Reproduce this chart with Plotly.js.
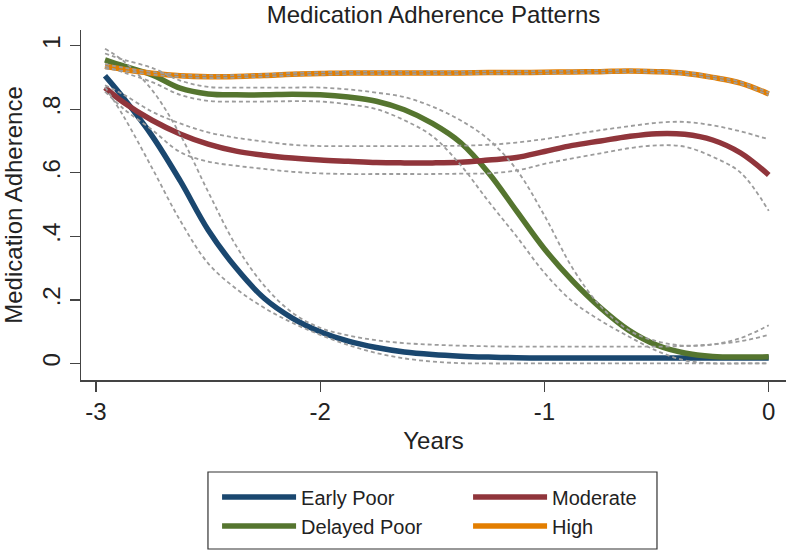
<!DOCTYPE html>
<html>
<head>
<meta charset="utf-8">
<script src="https://cdn.plot.ly/plotly-3.0.1.min.js"></script>
<style>html,body{margin:0;padding:0;background:#fff;}#chart{width:787px;height:551px;}</style>
</head>
<body>
<div id="chart"></div>
<script>
// ---- data ----
const years = [-2.96, -2.875, -2.75, -2.625, -2.5, -2.375, -2.25, -2.125, -2.0, -1.875, -1.75, -1.625, -1.5, -1.375, -1.25, -1.125, -1.0, -0.875, -0.75, -0.625, -0.5, -0.375, -0.25, -0.125, 0];

const earlyPoor   = [0.905, 0.833, 0.716, 0.575, 0.42, 0.30, 0.205, 0.143, 0.10, 0.07, 0.05, 0.036, 0.028, 0.023, 0.02, 0.018, 0.017, 0.017, 0.017, 0.017, 0.017, 0.017, 0.017, 0.017, 0.017];
const earlyPoorUp = [0.99, 0.95, 0.86, 0.72, 0.54, 0.37, 0.245, 0.16, 0.112, 0.088, 0.073, 0.064, 0.059, 0.056, 0.054, 0.053, 0.053, 0.053, 0.053, 0.053, 0.053, 0.055, 0.06, 0.07, 0.09];
const earlyPoorLo = [0.87, 0.775, 0.615, 0.45, 0.315, 0.235, 0.175, 0.128, 0.09, 0.058, 0.033, 0.016, 0.006, 0.001, 0, 0, 0, 0, 0, 0, 0, 0, 0, 0, 0];

const delayedPoor   = [0.955, 0.935, 0.908, 0.866, 0.848, 0.845, 0.845, 0.847, 0.845, 0.838, 0.825, 0.798, 0.755, 0.695, 0.60, 0.48, 0.36, 0.26, 0.175, 0.105, 0.058, 0.033, 0.022, 0.02, 0.021];
const delayedPoorUp = [0.975, 0.955, 0.93, 0.89, 0.87, 0.868, 0.868, 0.868, 0.868, 0.862, 0.852, 0.838, 0.808, 0.765, 0.705, 0.61, 0.465, 0.30, 0.18, 0.105, 0.07, 0.056, 0.06, 0.08, 0.12];
const delayedPoorLo = [0.935, 0.915, 0.885, 0.845, 0.826, 0.824, 0.824, 0.825, 0.824, 0.815, 0.80, 0.765, 0.715, 0.625, 0.51, 0.40, 0.285, 0.195, 0.135, 0.085, 0.04, 0.01, 0, 0, 0];

const moderate   = [0.868, 0.82, 0.765, 0.722, 0.69, 0.668, 0.655, 0.646, 0.64, 0.636, 0.632, 0.631, 0.631, 0.633, 0.64, 0.648, 0.667, 0.686, 0.70, 0.714, 0.723, 0.721, 0.703, 0.662, 0.593];
const moderateUp = [0.875, 0.845, 0.792, 0.755, 0.727, 0.71, 0.698, 0.688, 0.684, 0.684, 0.684, 0.684, 0.684, 0.685, 0.688, 0.695, 0.706, 0.72, 0.734, 0.746, 0.757, 0.76, 0.749, 0.73, 0.705];
const moderateLo = [0.855, 0.80, 0.735, 0.665, 0.635, 0.622, 0.612, 0.603, 0.598, 0.596, 0.596, 0.596, 0.596, 0.597, 0.598, 0.607, 0.628, 0.645, 0.661, 0.677, 0.686, 0.682, 0.65, 0.60, 0.48];

const high   = [0.935, 0.925, 0.913, 0.905, 0.902, 0.903, 0.906, 0.91, 0.912, 0.914, 0.914, 0.914, 0.914, 0.914, 0.915, 0.915, 0.916, 0.917, 0.918, 0.92, 0.918, 0.913, 0.90, 0.882, 0.848];
const highUp = [0.942, 0.93, 0.917, 0.909, 0.906, 0.907, 0.91, 0.914, 0.916, 0.918, 0.918, 0.918, 0.918, 0.918, 0.919, 0.919, 0.92, 0.921, 0.922, 0.924, 0.922, 0.917, 0.904, 0.886, 0.852];
const highLo = [0.928, 0.92, 0.909, 0.901, 0.898, 0.899, 0.902, 0.906, 0.908, 0.91, 0.91, 0.91, 0.91, 0.91, 0.911, 0.911, 0.912, 0.913, 0.914, 0.916, 0.914, 0.909, 0.896, 0.878, 0.844];

const seriesNames = ['Early Poor', 'Delayed Poor', 'Moderate', 'High'];
const yTickVals = [0, 0.2, 0.4, 0.6, 0.8, 1];
const yTickText = ['0', '.2', '.4', '.6', '.8', '1'];
const xTickVals = [-3, -2, -1, 0];
const xTickText = ['-3', '-2', '-1', '0'];

// ---- styling ----
const FONT = 'Liberation Sans, Arial, Helvetica, sans-serif';
const colors = ['#1a476f', '#55752f', '#90353b', '#e37e00'];
const legendRank = [1, 3, 2, 4];
const mains = [earlyPoor, delayedPoor, moderate, high];
const ups = [earlyPoorUp, delayedPoorUp, moderateUp, highUp];
const los = [earlyPoorLo, delayedPoorLo, moderateLo, highLo];

const traces = [];
mains.forEach((ys, i) => {
  traces.push({
    x: years, y: ys, type: 'scatter', mode: 'lines', name: seriesNames[i],
    line: {color: colors[i], width: 5.5, shape: 'spline', smoothing: 1},
    legendrank: legendRank[i], hoverinfo: 'skip'
  });
});
[ups, los].forEach(group => {
  group.forEach((ys, i) => {
    traces.push({
      x: years, y: ys, type: 'scatter', mode: 'lines', showlegend: false,
      line: {color: '#9c9c9c', width: 1.8, dash: '4px,3px', shape: 'spline', smoothing: 1},
      hoverinfo: 'skip'
    });
  });
});

const layout = {
  width: 787, height: 551,
  margin: {l: 81, r: 1, t: 30, b: 171, pad: 0},
  paper_bgcolor: '#ffffff', plot_bgcolor: '#ffffff',
  font: {family: FONT, color: '#222'},
  showlegend: true,
  title: {text: 'Medication Adherence Patterns', font: {size: 24, family: FONT, color: '#222'},
          x: 0.5, xref: 'paper', y: 0.974, yref: 'container', yanchor: 'middle'},
  xaxis: {
    range: [-3.067, 0.077], tickvals: xTickVals, ticktext: xTickText,
    ticks: 'outside', ticklen: 10, tickwidth: 1.3, tickcolor: '#444',
    showline: true, linecolor: '#444', linewidth: 1.5, mirror: false,
    showgrid: false, zeroline: false, tickfont: {size: 24, family: FONT, color: '#222'},
    title: {text: 'Years', font: {size: 24, family: FONT, color: '#222'}, standoff: 8},
    automargin: false
  },
  yaxis: {
    range: [-0.052, 1.049], tickvals: yTickVals, ticktext: yTickText, tickangle: -90,
    ticks: 'outside', ticklen: 10, tickwidth: 1.3, tickcolor: '#444',
    showline: true, linecolor: '#444', linewidth: 1.5,
    showgrid: false, zeroline: false, tickfont: {size: 24, family: FONT, color: '#222'},
    title: {text: 'Medication Adherence', font: {size: 24, family: FONT, color: '#222'}, standoff: 8},
    automargin: false
  },
  legend: {
    orientation: 'h', x: 0.193, xanchor: 'left', y: -0.2785, yanchor: 'top',
    itemwidth: 74, entrywidth: 162, traceorder: 'normal',
    font: {size: 20, family: FONT, color: '#222'},
    bgcolor: 'rgba(0,0,0,0)', borderwidth: 0
  },
  shapes: [{
    type: 'rect', xref: 'paper', yref: 'paper',
    x0: 0.1801, x1: 0.8170, y0: -0.4829, y1: -0.2629,
    line: {color: '#333', width: 1.2}, fillcolor: 'rgba(0,0,0,0)'
  }]
};

Plotly.newPlot('chart', traces, layout, {staticPlot: true, displayModeBar: false});
</script>
</body>
</html>
